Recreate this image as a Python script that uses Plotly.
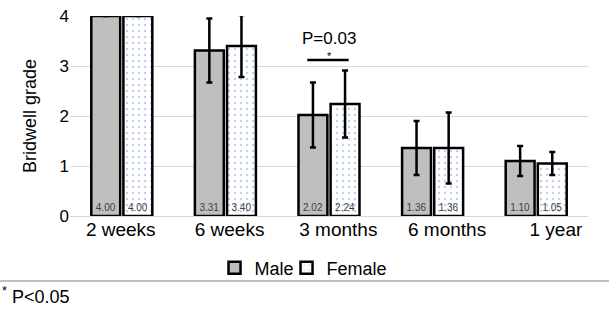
import plotly.graph_objects as go

categories = ["2 weeks", "6 weeks", "3 months", "6 months", "1 year"]
male = [4.00, 3.31, 2.02, 1.36, 1.10]
female = [4.00, 3.40, 2.24, 1.36, 1.05]
male_err = [0, 0.64, 0.65, 0.54, 0.30]
female_err = [0, 0.62, 0.67, 0.71, 0.23]
y_ticks = [0, 1, 2, 3, 4]
sig_label = "P=0.03"
footnote = "<sup>*</sup> P&lt;0.05"

FONT = "Liberation Sans, Arial, sans-serif"
xs = list(range(len(categories)))

fig = go.Figure()
fig.add_trace(go.Bar(
    x=xs, y=male, name="Male", legend="legend",
    marker=dict(color="#bfbfbf", line=dict(color="black", width=2.5)),
    error_y=dict(type="data", array=male_err, color="black", thickness=2.5, width=3,
                 visible=True),
    text=[f"{v:.2f}" for v in male], textposition="inside", insidetextanchor="start",
    textfont=dict(size=10, color="#404040", family=FONT), textangle=0,
))
fig.add_trace(go.Bar(
    x=xs, y=female, name="Female", legend="legend2",
    marker=dict(color="white", line=dict(color="black", width=2.5),
                pattern=dict(shape=".", fgcolor="#7f9fe0", bgcolor="white",
                             size=6, solidity=0.12)),
    error_y=dict(type="data", array=female_err, color="black", thickness=2.5, width=3,
                 visible=True),
    text=[f"{v:.2f}" for v in female], textposition="inside", insidetextanchor="start",
    textfont=dict(size=10, color="#404040", family=FONT), textangle=0,
))

# significance marker over 3 months
sig_idx = 2
fig.add_shape(type="line", xref="x", yref="y",
              x0=sig_idx - 0.21, x1=sig_idx + 0.19, y0=3.12, y1=3.12,
              line=dict(color="black", width=2.5))
fig.add_annotation(x=sig_idx, y=3.56, xref="x", yref="y", text=sig_label,
                   showarrow=False, font=dict(size=17, color="black", family=FONT))
fig.add_annotation(x=sig_idx, y=3.21, xref="x", yref="y", text="*",
                   showarrow=False, font=dict(size=11, color="black", family=FONT))

# separator line and footnote
fig.add_shape(type="line", xref="paper", yref="paper",
              x0=-0.2, x1=1.1, y0=-0.325, y1=-0.325,
              line=dict(color="#808080", width=1))
fig.add_annotation(x=-0.135, y=-0.397, xref="paper", yref="paper", text=footnote,
                   showarrow=False, xanchor="left", yanchor="middle",
                   font=dict(size=18, color="black", family=FONT))

tickvals = [-0.01 + 1.05 * i for i in xs]

legend_common = dict(orientation="h", xanchor="left", y=-0.26, yanchor="middle",
                     font=dict(size=18, family=FONT), itemwidth=30,
                     bgcolor="rgba(0,0,0,0)")

fig.update_layout(
    width=609, height=310,
    margin=dict(l=70, r=21, t=16, b=94, autoexpand=False),
    paper_bgcolor="white", plot_bgcolor="white",
    barmode="group", bargap=0.38, bargroupgap=0.1,
    font=dict(family=FONT, size=18, color="black"),
    showlegend=True,
    legend=dict(x=0.279, **legend_common),
    legend2=dict(x=0.418, **legend_common),
    xaxis=dict(range=[-0.5, len(categories) - 0.5], tickvals=tickvals, ticktext=categories,
               showgrid=False, zeroline=False, showline=False, ticks="",
               automargin=False, tickfont=dict(size=19, family=FONT)),
    yaxis=dict(range=[0, 4], tickvals=y_ticks, showgrid=True, gridcolor="#d9d9d9",
               gridwidth=1, zeroline=True, zerolinecolor="#d9d9d9", zerolinewidth=1,
               showline=False, ticks="", automargin=False,
               tickfont=dict(size=17, family=FONT),
               title=dict(text="Bridwell grade", font=dict(size=18, family=FONT),
                          standoff=18)),
)

fig.write_html("out.html", post_script="document.body.style.margin='0';",
               config={"displayModeBar": False})
